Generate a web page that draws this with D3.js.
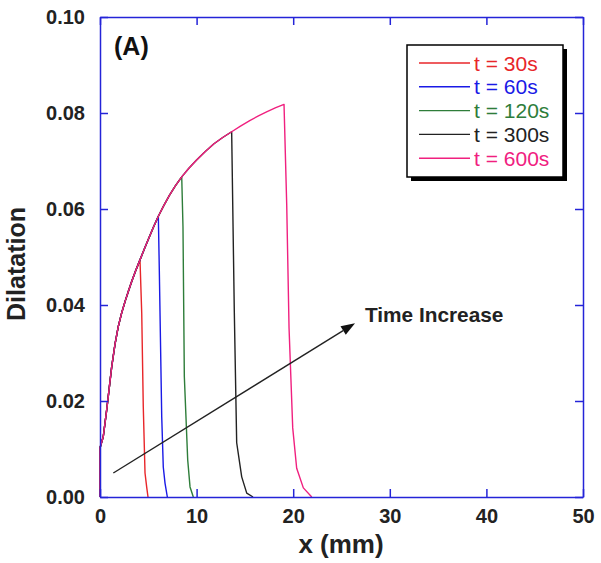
<!DOCTYPE html>
<html><head><meta charset="utf-8">
<script src="https://cdn.jsdelivr.net/npm/d3@7/dist/d3.min.js"></script>
<style>body{margin:0;background:#fff;} text{font-family:"Liberation Sans",Arial,Helvetica,sans-serif;}</style>
</head><body><svg id="c" width="601" height="563"></svg>
<script>
const seriesNames = ["t = 30s","t = 60s","t = 120s","t = 300s","t = 600s"];
const seriesColors = ["#e8262a","#1a1ae6","#2e7d3a","#222222","#f0207f"];
const t30 = [[0,0],[0,0.0102],[0.34,0.0126],[0.69,0.0181],[1.21,0.0271],[1.55,0.0318],[1.89,0.0355],[2.25,0.0384],[2.59,0.0407],[2.93,0.0428],[3.28,0.0449],[3.7,0.0472],[4.14,0.0494],[4.32,0.0383],[4.48,0.0188],[4.66,0.005],[4.83,0.0021],[4.97,0]];
const t60 = [[0,0],[0,0.0102],[0.34,0.0126],[0.69,0.0181],[1.21,0.0271],[1.55,0.0318],[1.89,0.0355],[2.25,0.0384],[2.59,0.0407],[2.93,0.0428],[3.28,0.0449],[3.7,0.0472],[4.14,0.0494],[4.6,0.0517],[5.05,0.0539],[5.55,0.0563],[6.04,0.0585],[6.14,0.0473],[6.39,0.0167],[6.55,0.00625],[6.73,0.0029],[6.97,0]];
const t120 = [[0,0],[0,0.0102],[0.34,0.0126],[0.69,0.0181],[1.21,0.0271],[1.55,0.0318],[1.89,0.0355],[2.25,0.0384],[2.59,0.0407],[2.93,0.0428],[3.28,0.0449],[3.7,0.0472],[4.14,0.0494],[4.6,0.0517],[5.05,0.0539],[5.55,0.0563],[6.04,0.0585],[6.6,0.0607],[7.2,0.0629],[7.8,0.0648],[8.46,0.0667],[8.59,0.0563],[8.73,0.0251],[9.08,0.0077],[9.32,0.0021],[9.66,0]];
const t300 = [[0,0],[0,0.0102],[0.34,0.0126],[0.69,0.0181],[1.21,0.0271],[1.55,0.0318],[1.89,0.0355],[2.25,0.0384],[2.59,0.0407],[2.93,0.0428],[3.28,0.0449],[3.7,0.0472],[4.14,0.0494],[4.6,0.0517],[5.05,0.0539],[5.55,0.0563],[6.04,0.0585],[6.6,0.0607],[7.2,0.0629],[7.8,0.0648],[8.46,0.0667],[9.2,0.0685],[10,0.0702],[10.9,0.0720],[11.8,0.0736],[12.7,0.0749],[13.63,0.0761],[13.9,0.039],[14.15,0.0113],[14.67,0.0042],[15.19,0.0008],[15.84,0]];
const t600 = [[0,0],[0,0.0102],[0.34,0.0126],[0.69,0.0181],[1.21,0.0271],[1.55,0.0318],[1.89,0.0355],[2.25,0.0384],[2.59,0.0407],[2.93,0.0428],[3.28,0.0449],[3.7,0.0472],[4.14,0.0494],[4.6,0.0517],[5.05,0.0539],[5.55,0.0563],[6.04,0.0585],[6.6,0.0607],[7.2,0.0629],[7.8,0.0648],[8.46,0.0667],[9.2,0.0685],[10,0.0702],[10.9,0.0720],[11.8,0.0736],[12.7,0.0749],[13.63,0.0761],[14.5,0.0772],[15.5,0.0784],[16.4,0.0794],[17.3,0.0803],[18.2,0.0811],[19.05,0.0818],[19.33,0.0608],[19.57,0.0352],[19.95,0.0144],[20.36,0.006],[21.05,0.0019],[21.92,0]];
const allSeries = [t30,t60,t120,t300,t600];
const xTicks = [0,10,20,30,40,50];
const yTicks = [0,0.02,0.04,0.06,0.08,0.10];
const arrowStart = [1.38,0.005];
const arrowEnd = [26.4,0.0362];

const svg = d3.select("#c");
const x = d3.scaleLinear().domain([0,50]).range([100,583]);
const y = d3.scaleLinear().domain([0,0.1]).range([497,17]);
const axisColor = "#2424d8";

const line = d3.line().x(d=>x(d[0])).y(d=>y(d[1]));
allSeries.forEach((s,i)=>{
  svg.append("path").attr("d",line(s)).attr("fill","none")
    .attr("stroke",seriesColors[i]).attr("stroke-width",1.4).attr("stroke-linejoin","round");
});

// axes
const tl = 8;
const gB = svg.append("g").attr("transform",`translate(0,${y(0)})`)
  .call(d3.axisBottom(x).tickValues(xTicks).tickSizeInner(-tl).tickSizeOuter(0).tickPadding(12).tickFormat(d3.format("d")));
const gT = svg.append("g").attr("transform",`translate(0,${y(0.1)})`)
  .call(d3.axisTop(x).tickValues(xTicks).tickSizeInner(-tl).tickSizeOuter(0).tickFormat(""));
const gL = svg.append("g").attr("transform",`translate(${x(0)},0)`)
  .call(d3.axisLeft(y).tickValues(yTicks).tickSizeInner(-tl).tickSizeOuter(0).tickPadding(15).tickFormat(d3.format(".2f")));
const gR = svg.append("g").attr("transform",`translate(${x(50)},0)`)
  .call(d3.axisRight(y).tickValues(yTicks).tickSizeInner(-tl).tickSizeOuter(0).tickFormat(""));
[gB,gT,gL,gR].forEach(g=>{
  g.selectAll("path.domain").attr("stroke",axisColor).attr("stroke-width",1.5);
  g.selectAll(".tick line").attr("stroke",axisColor).attr("stroke-width",1.5);
  g.selectAll(".tick text").attr("fill","#222").attr("font-size",20).attr("font-weight","bold")
    .style("font-family","'Liberation Sans',Arial,sans-serif");
});
gL.selectAll(".tick text").attr("dy","0.32em");

// axis labels
svg.append("text").attr("x",341).attr("y",553).attr("text-anchor","middle")
  .attr("font-size",26).attr("font-weight","bold").attr("fill","#222").text("x (mm)");
svg.append("text").attr("transform","translate(25,264) rotate(-90)").attr("text-anchor","middle")
  .attr("font-size",25).attr("font-weight","bold").attr("fill","#222").text("Dilatation");
svg.append("text").attr("x",114).attr("y",55).attr("font-size",25).attr("font-weight","bold").attr("fill","#111").text("(A)");

// arrow
const ax0=x(arrowStart[0]), ay0=y(arrowStart[1]), ax1=x(arrowEnd[0]), ay1=y(arrowEnd[1]);
const ang = Math.atan2(ay1-ay0, ax1-ax0);
const hl=14, hw=5;
const bx = ax1 - hl*Math.cos(ang), by = ay1 - hl*Math.sin(ang);
svg.append("line").attr("x1",ax0).attr("y1",ay0).attr("x2",bx).attr("y2",by)
  .attr("stroke","#222").attr("stroke-width",1.4);
svg.append("path").attr("d",`M${ax1},${ay1}L${bx - hw*Math.sin(ang)},${by + hw*Math.cos(ang)}L${bx + hw*Math.sin(ang)},${by - hw*Math.cos(ang)}Z`).attr("fill","#111");
svg.append("text").attr("x",365).attr("y",322).attr("font-size",20.8).attr("font-weight","bold").attr("fill","#222").text("Time Increase");

// legend
const lg = svg.append("g");
lg.append("rect").attr("x",411).attr("y",49).attr("width",156).attr("height",132).attr("fill","#000");
lg.append("rect").attr("x",407).attr("y",45).attr("width",156).attr("height",132).attr("fill","#fff").attr("stroke","#000").attr("stroke-width",1.5);
seriesNames.forEach((n,i)=>{
  const yy = 63 + i*23.8;
  lg.append("line").attr("x1",419).attr("x2",470).attr("y1",yy).attr("y2",yy).attr("stroke",seriesColors[i]).attr("stroke-width",1.4);
  lg.append("text").attr("x",474).attr("y",yy).attr("dy","0.36em").attr("font-size",21).attr("fill",seriesColors[i]).text(n);
});
</script></body></html>
